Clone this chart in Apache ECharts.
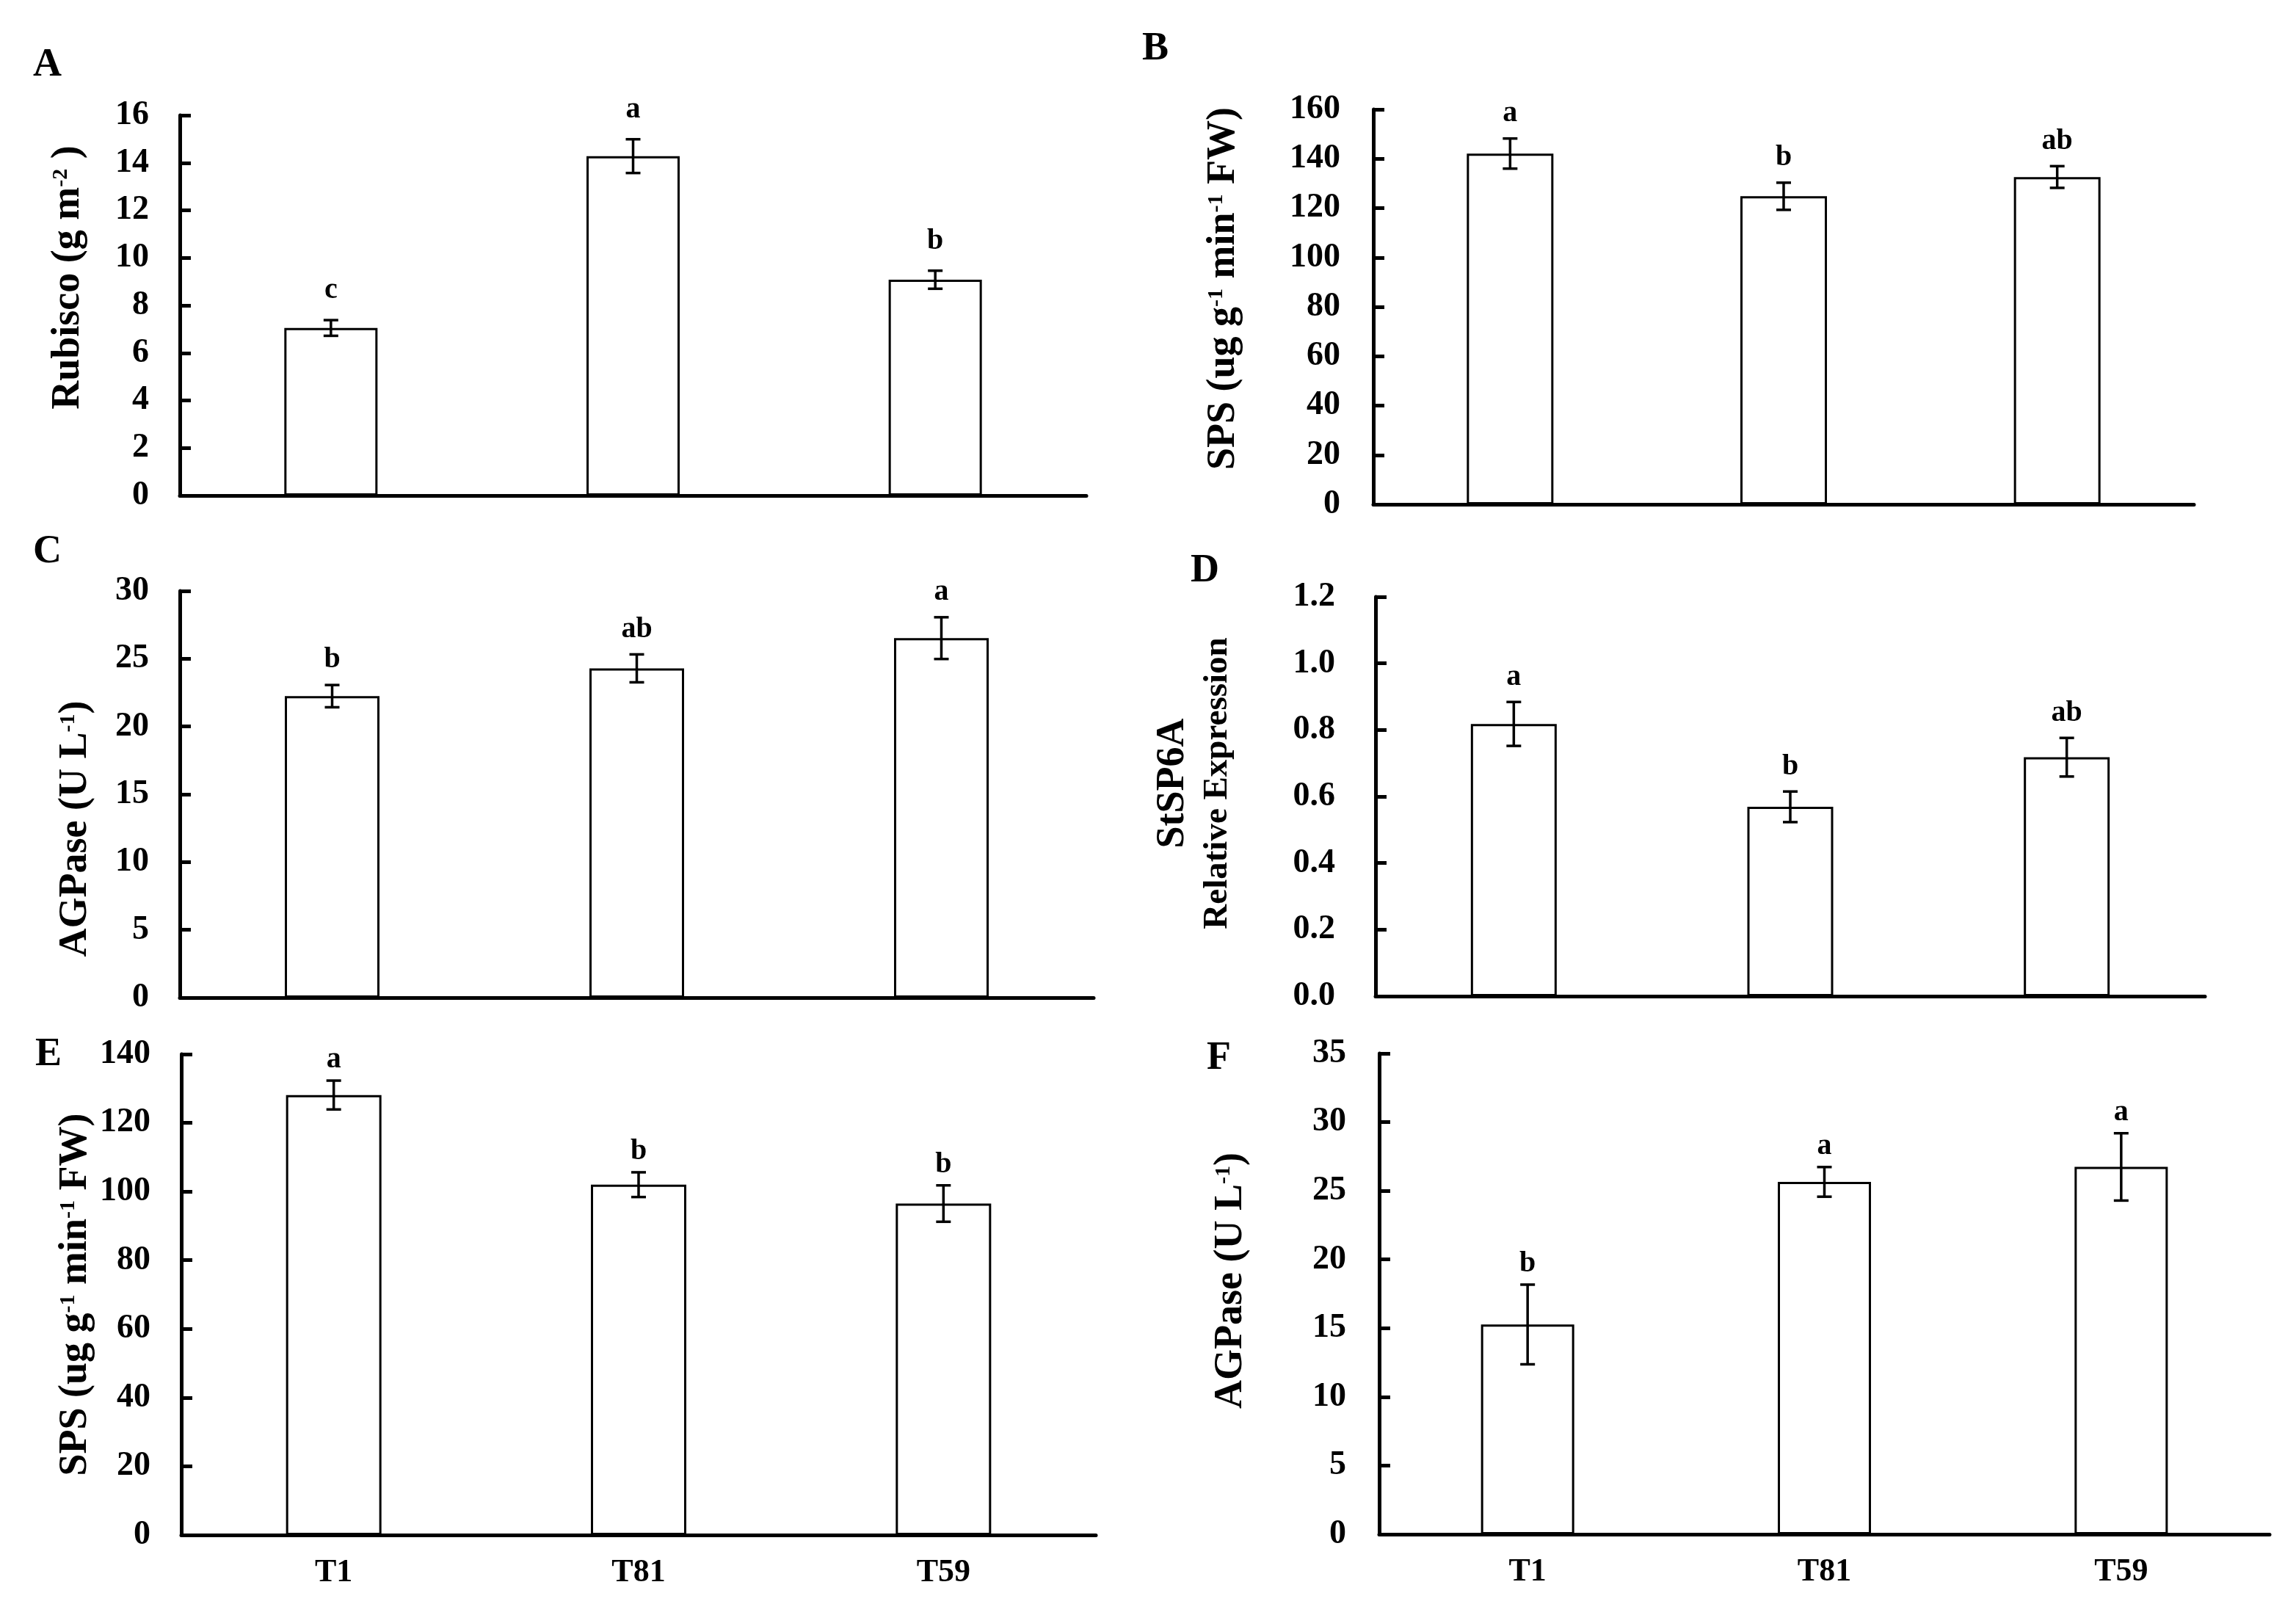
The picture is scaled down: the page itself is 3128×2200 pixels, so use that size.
<!DOCTYPE html>
<html>
<head>
<meta charset="utf-8">
<script src="https://cdn.jsdelivr.net/npm/echarts@6/dist/echarts.min.js"></script>
<style>html,body{margin:0;padding:0;background:#fff}#c{width:3128px;height:2200px}</style>
</head>
<body>
<div id="c"></div>
<script>
// ---------------- data ----------------
const categories = ['T1', 'T81', 'T59'];

const rubiscoMean = [7.05, 14.28, 9.08];
const rubiscoErr  = [0.33, 0.71, 0.38];
const rubiscoSig  = ['c', 'a', 'b'];

const spsLeafMean = [142.1, 124.8, 132.6];
const spsLeafErr  = [6.1, 5.5, 4.4];
const spsLeafSig  = ['a', 'b', 'ab'];

const agpLeafMean = [22.24, 24.29, 26.52];
const agpLeafErr  = [0.82, 1.03, 1.54];
const agpLeafSig  = ['b', 'ab', 'a'];

const sp6aMean = [0.818, 0.569, 0.718];
const sp6aErr  = [0.066, 0.046, 0.058];
const sp6aSig  = ['a', 'b', 'ab'];

const spsTuberMean = [128.1, 102.0, 96.5];
const spsTuberErr  = [4.2, 3.6, 5.3];
const spsTuberSig  = ['a', 'b', 'b'];

const agpTuberMean = [15.27, 25.65, 26.74];
const agpTuberErr  = [2.9, 1.08, 2.45];
const agpTuberSig  = ['b', 'a', 'a'];

const yMax      = [16, 160, 30, 1.2, 140, 35];
const yInterval = [2, 20, 5, 0.2, 20, 5];
const panelLetters = ['A', 'B', 'C', 'D', 'E', 'F'];
const yNames = [
  '{m|Rubisco (g m}{s|-2}{m| )}',
  '{m|SPS (ug g}{s|-1}{m| min}{s|-1}{m| FW)}',
  '{m|AGPase (U L}{s|-1}{m|)}',
  '{big|StSP6A}\n{small|Relative Expression}',
  '{m|SPS (ug g}{s|-1}{m| min}{s|-1}{m| FW)}',
  '{m|AGPase (U L}{s|-1}{m|)}'
];

const means = [rubiscoMean, spsLeafMean, agpLeafMean, sp6aMean, spsTuberMean, agpTuberMean];
const errs  = [rubiscoErr, spsLeafErr, agpLeafErr, sp6aErr, spsTuberErr, agpTuberErr];
const sigs  = [rubiscoSig, spsLeafSig, agpLeafSig, sp6aSig, spsTuberSig, agpTuberSig];

// ---------------- layout (pixels) ----------------
const FONT = '"Liberation Serif", "Times New Roman", serif';
const grids = [
  {left: 245,  top: 157,  width: 1235, height: 518},
  {left: 1871, top: 149,  width: 1118, height: 538},
  {left: 245,  top: 805,  width: 1245, height: 554},
  {left: 1874, top: 813,  width: 1130, height: 544},
  {left: 247,  top: 1436, width: 1246, height: 655},
  {left: 1879, top: 1435, width: 1213, height: 655}
];
const barWidths = [127, 118, 129, 117, 130, 127];
const nameGaps  = [125, 177, 115, 185, 117, 175];
const nameShift = [38, 25, -47, 18, 0, 18]; // positive = up
const labelMargins = [42, 45, 42, 55, 42, 45];
const letterPos = [
  {left: 45, top: 62}, {left: 1556, top: 40}, {left: 45, top: 725},
  {left: 1622, top: 751}, {left: 48, top: 1410}, {left: 1644, top: 1415}
];
const sigGap = [20, 14, 14, 14, 8, 8];

const chart = echarts.init(document.getElementById('c'), null, {renderer: 'canvas'});

const option = {
  backgroundColor: '#fff',
  animation: false,
  title: panelLetters.map((t, i) => ({
    text: t, left: letterPos[i].left, top: letterPos[i].top, padding: 0,
    textStyle: {fontFamily: FONT, fontWeight: 'bold', fontSize: 54, color: '#000'}
  })),
  grid: grids.map(g => Object.assign({containLabel: false}, g)),
  xAxis: grids.map((g, i) => ({
    type: 'category', gridIndex: i, data: categories,
    axisLine: {lineStyle: {color: '#000', width: 5}},
    axisTick: {show: false},
    axisLabel: {show: i >= 4, margin: 30, fontFamily: FONT, fontWeight: 'bold', fontSize: 44, color: '#000'}
  })),
  yAxis: grids.map((g, i) => {
    const s = nameShift[i];
    const pad = s >= 0 ? [0, 0, 0, 2 * s] : [0, -2 * s, 0, 0];
    return {
      type: 'value', gridIndex: i, min: 0, max: yMax[i], interval: yInterval[i],
      axisLine: {show: true, lineStyle: {color: '#000', width: 5}},
      axisTick: {show: true, inside: true, length: 15, lineStyle: {color: '#000', width: 5}},
      splitLine: {show: false},
      axisLabel: {
        margin: labelMargins[i], fontFamily: FONT, fontWeight: 'bold', fontSize: 46, color: '#000',
        formatter: v => (i === 3 ? v.toFixed(1) : String(v))
      },
      name: yNames[i], nameLocation: 'middle', nameGap: nameGaps[i],
      nameTextStyle: {
        fontFamily: FONT, fontWeight: 'bold', color: '#000', padding: pad,
        rich: {
          m: {fontFamily: FONT, fontWeight: 'bold', fontSize: 54, color: '#000', lineHeight: 60, verticalAlign: 'bottom'},
          s: {fontFamily: FONT, fontWeight: 'bold', fontSize: 30, color: '#000', lineHeight: 34, verticalAlign: 'top', padding: [8, 0, 0, 0]},
          big: {fontFamily: FONT, fontWeight: 'bold', fontSize: 54, color: '#000', lineHeight: 62},
          small: {fontFamily: FONT, fontWeight: 'bold', fontSize: 47, color: '#000', lineHeight: 60}
        }
      }
    };
  }),
  series: []
};

grids.forEach((g, i) => {
  option.series.push({
    type: 'bar', xAxisIndex: i, yAxisIndex: i, data: means[i], barWidth: barWidths[i],
    itemStyle: {color: '#fff', borderColor: '#000', borderWidth: 3},
    z: 2
  });
  option.series.push({
    type: 'custom', xAxisIndex: i, yAxisIndex: i, clip: false, z: 5,
    data: means[i].map((m, k) => [k, m, errs[i][k]]),
    renderItem: (params, api) => {
      const x = api.value(0), m = api.value(1), e = api.value(2);
      const top = api.coord([x, m + e]);
      const bot = api.coord([x, m - e]);
      const cap = 10;
      const ls = {stroke: '#000', lineWidth: 3.5};
      return {
        type: 'group',
        children: [
          {type: 'line', shape: {x1: top[0], y1: top[1], x2: bot[0], y2: bot[1]}, style: ls},
          {type: 'line', shape: {x1: top[0] - cap, y1: top[1], x2: top[0] + cap, y2: top[1]}, style: ls},
          {type: 'line', shape: {x1: bot[0] - cap, y1: bot[1], x2: bot[0] + cap, y2: bot[1]}, style: ls},
          {type: 'text', x: top[0], y: top[1] - sigGap[i],
           style: {text: sigs[i][params.dataIndex], fill: '#000', fontFamily: FONT, fontWeight: 'bold',
                   fontSize: 40, align: 'center', verticalAlign: 'bottom'}}
        ]
      };
    }
  });
});

chart.setOption(option);
</script>
</body>
</html>
